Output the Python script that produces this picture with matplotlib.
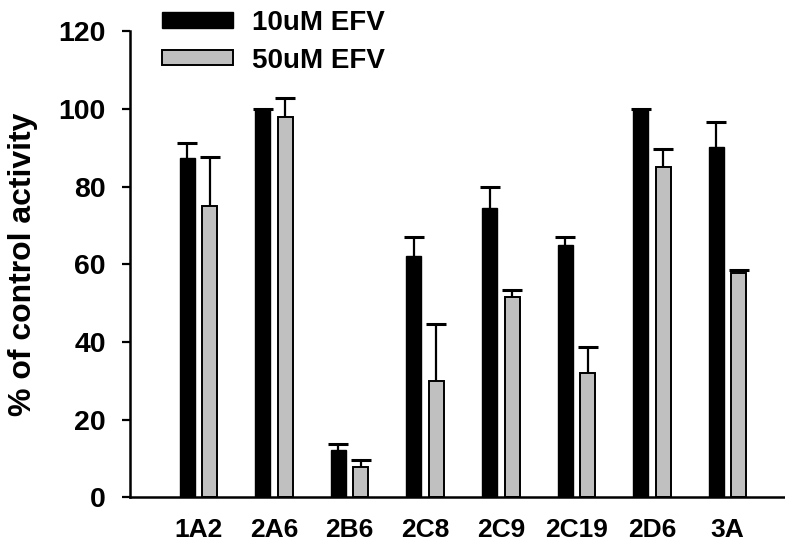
import matplotlib
matplotlib.use("Agg")
import matplotlib.pyplot as plt
import numpy as np

plt.rcParams['font.family'] = ['Liberation Sans', 'DejaVu Sans']
plt.rcParams['font.weight'] = 'bold'

isoforms = ["1A2", "2A6", "2B6", "2C8", "2C9", "2C19", "2D6", "3A"]
efv10 = [87.3, 100.0, 12.2, 62.1, 74.4, 64.9, 100.0, 90.3]
efv10_err = [3.9, 0.0, 1.4, 4.8, 5.6, 2.0, 0.0, 6.2]
efv50 = [75.1, 97.8, 7.9, 30.0, 51.5, 32.0, 84.9, 57.8]
efv50_err = [12.4, 5.0, 1.7, 14.6, 1.8, 6.6, 4.8, 0.8]
series_labels = ["10uM EFV", "50uM EFV"]
yticks = [0, 20, 40, 60, 80, 100, 120]

fig = plt.figure(figsize=(7.85, 5.44), dpi=100)
ax = fig.add_axes([0.1656, 0.0858, 1 - 0.1656, 0.857])

x = np.arange(len(isoforms))
w = 0.198
off = 0.149
err_kw = dict(fmt="none", ecolor="black", elinewidth=1.6, capsize=7.5,
              capthick=2.2, zorder=1)


def upper_errorbar(xpos, vals, errs):
    """Draw upper-only whiskers (no cap at the bar top)."""
    zeros = np.zeros(len(errs))
    cont = ax.errorbar(xpos, vals, yerr=[zeros, errs], **err_kw)
    caps = cont[1]
    if len(caps) == 2:
        caps[0].set_visible(False)
    return cont


b1 = ax.bar(x - off, efv10, w, color="black", edgecolor="black", linewidth=1.0,
            label=series_labels[0], zorder=2)
upper_errorbar(x - off, efv10, efv10_err)
b2 = ax.bar(x + off, efv50, w, color="#c0c0c0", edgecolor="black", linewidth=1.4,
            label=series_labels[1], zorder=2)
upper_errorbar(x + off, efv50, efv50_err)

ax.set_xlim(-0.906, 7.76)
ax.set_ylim(0, 120)
ax.set_yticks(yticks)
ax.set_xticks(x)
ax.set_xticklabels(isoforms, fontsize=19, fontweight="bold")
ax.tick_params(axis="x", length=0, pad=15)
ax.tick_params(axis="y", direction="out", length=5.5, width=1.6, pad=12,
               labelsize=20.5)
for lab in ax.get_yticklabels():
    lab.set_fontweight("bold")

for s in ["top", "right"]:
    ax.spines[s].set_visible(False)
for s in ["left", "bottom"]:
    ax.spines[s].set_linewidth(1.8)

ax.set_ylabel("% of control activity", fontsize=23, fontweight="bold")
ax.yaxis.set_label_coords(-0.140, 0.5)

leg = ax.legend(handles=[b1, b2], loc="upper left", frameon=False,
                bbox_to_anchor=(162 / 785, 1 - 10 / 544),
                bbox_transform=fig.transFigure,
                handlelength=2.55, handleheight=0.47,
                handletextpad=0.68, labelspacing=0.42, borderpad=0,
                borderaxespad=0, prop={"weight": "bold", "size": 20})

fig.savefig("out.png", dpi=100)
